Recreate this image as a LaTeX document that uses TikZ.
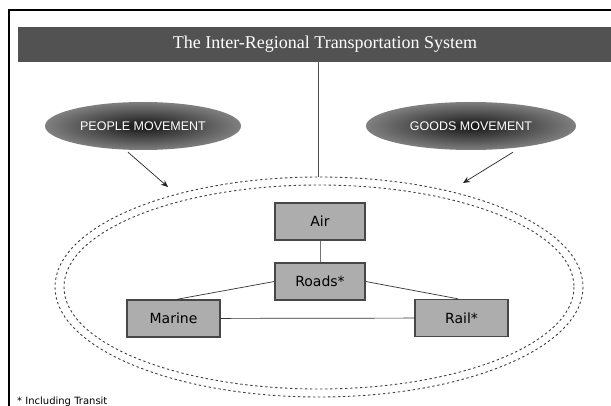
\documentclass[tikz,border=0pt]{standalone}
\usepackage{fontspec}
\setmainfont{Liberation Serif}
\setsansfont{DejaVu Sans}
\newfontfamily\capsfont{Liberation Sans}
\usetikzlibrary{shapes.geometric,arrows.meta}

\definecolor{barfill}{gray}{0.32}
\definecolor{boxfill}{gray}{0.68}
\definecolor{boxline}{gray}{0.28}
\definecolor{dashgray}{gray}{0.25}

\tikzset{
  frameline/.style={line width=1.8pt, black},
  titlebar/.style={fill=barfill, draw=none},
  moveoval/.style={ellipse, shading=radial, inner color=black!92, outer color=black!50,
    text=white, font=\capsfont\fontsize{12.5}{14}\selectfont,
    minimum height=48pt, inner sep=0pt},
  modebox/.style={rectangle, fill=boxfill, draw=boxline, line width=1.4pt,
    font=\sffamily\fontsize{14}{16}\selectfont, minimum height=37pt, inner sep=0pt},
  link/.style={draw=black!80, line width=0.7pt},
  pointer/.style={draw=black!85, line width=0.7pt, -{Stealth[length=7pt,width=6pt]}},
  ring/.style={draw=dashgray, line width=0.9pt, dash pattern=on 2.4pt off 2.6pt},
}

\begin{document}
\begin{tikzpicture}[x=1pt,y=-1pt]
\useasboundingbox[fill=white] (0,0) rectangle (611,406);

% outer frame, open on the right and at the bottom
\draw[frameline] (9,406) -- (9,10) -- (611,10);

% title bar
\path[titlebar] (18,27) rectangle (611,62);
\node[text=white, font=\fontsize{18}{20}\selectfont] (title) at (325,44)
  {The Inter-Regional Transportation System};
\coordinate (barfoot) at (318,62);

% the two kinds of movement
\node[moveoval, minimum width=196pt] (people) at (143,126) {PEOPLE MOVEMENT};
\node[moveoval, minimum width=210pt] (goods)  at (471,126) {GOODS MOVEMENT};

% dashed double ring round the modes
\coordinate (ringc) at (319,287);
\draw[ring] (ringc) ellipse [x radius=264, y radius=110];
\draw[ring] (ringc) ellipse [x radius=255, y radius=102];
\coordinate (ringtop) at (318,177);
\coordinate (peopletip) at (168,187);
\coordinate (goodstip) at (463,183);

\draw[link, draw=black!70] (barfoot) -- (ringtop);
\draw[pointer] ([xshift=-15pt, yshift=-2pt]people.south) -- (peopletip);
\draw[pointer] ([xshift=42pt, yshift=-2pt]goods.south) -- (goodstip);

% transport modes
\node[modebox, minimum width=90pt] (air)    at (320,221.5) {Air};
\node[modebox, minimum width=90pt] (roads)  at (320,281.5) {Roads*};
\node[modebox, minimum width=93pt] (marine) at (173.5,318.5) {Marine};
\node[modebox, minimum width=93pt] (rail)   at (461.5,318) {Rail*};

\draw[link, draw=black!55] (air) -- (roads);
\draw[link] (roads.west) -- ([xshift=3.5pt]marine.north);
\draw[link] (roads.east) -- ([xshift=-3.5pt]rail.north);
\draw[link] (marine) -- (rail);

% footnote
\node[anchor=base west, font=\sffamily\fontsize{10}{12}\selectfont, inner sep=0pt] (note)
  at (17,404) {* Including Transit};
\end{tikzpicture}
\end{document}
